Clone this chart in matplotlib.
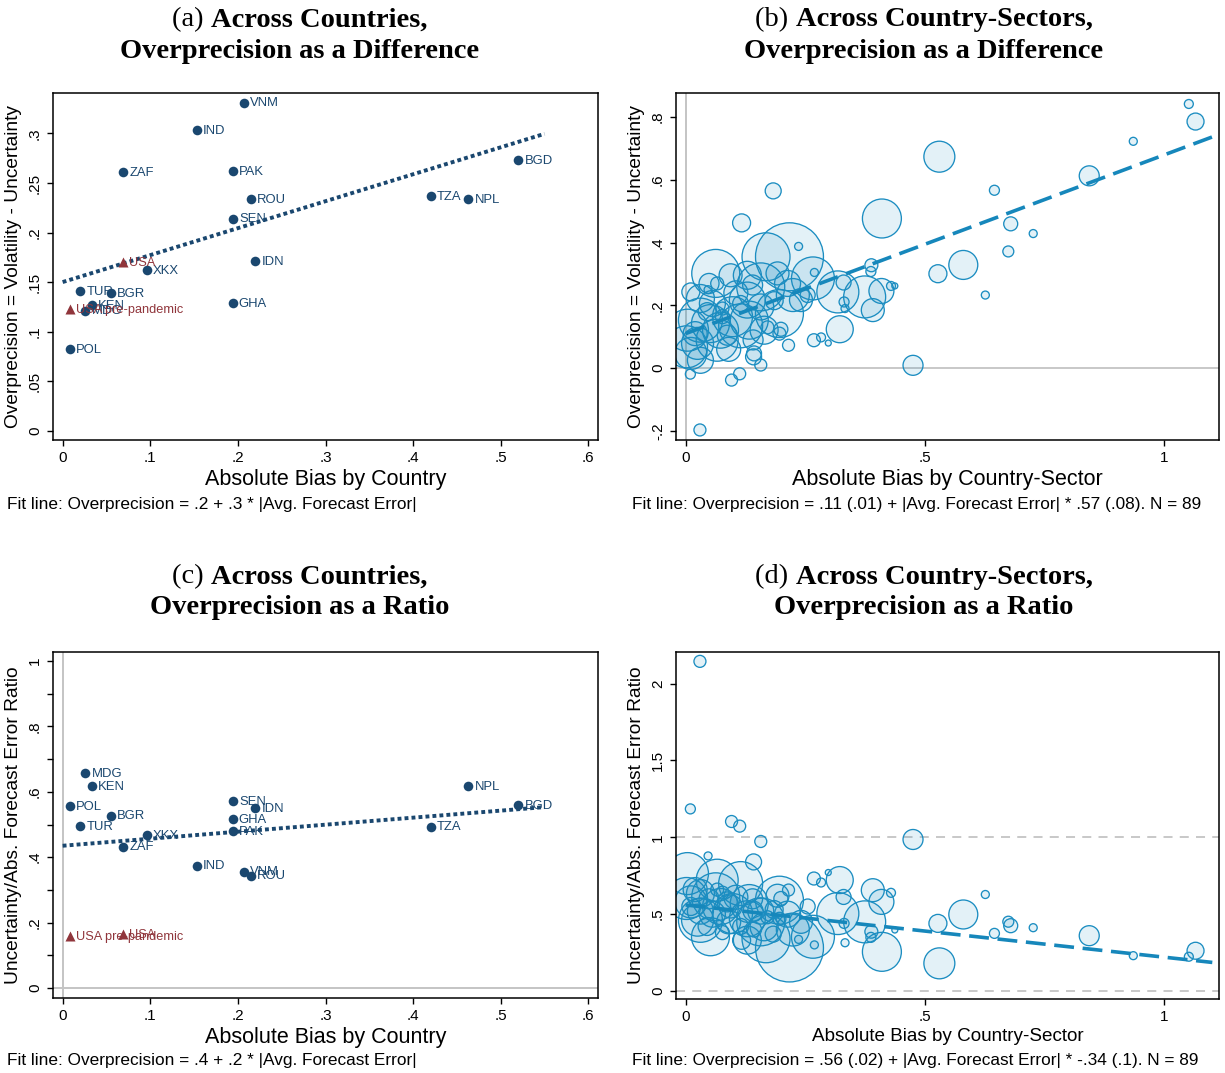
import matplotlib
matplotlib.use('Agg')
import matplotlib.pyplot as plt
import numpy as np

plt.rcParams['font.family'] = ['Liberation Sans', 'DejaVu Sans']

# ---- country level data ----
countries = ['VNM', 'IND', 'ZAF', 'PAK', 'ROU', 'SEN', 'BGD', 'TZA', 'NPL',
             'IDN', 'XKX', 'TUR', 'BGR', 'GHA', 'KEN', 'MDG', 'POL']
abs_bias = [0.207, 0.153, 0.069, 0.194, 0.215, 0.195, 0.520, 0.420, 0.463,
            0.220, 0.096, 0.020, 0.055, 0.194, 0.033, 0.026, 0.008]
overprec_diff = [0.331, 0.303, 0.261, 0.262, 0.234, 0.214, 0.273, 0.237, 0.234,
                 0.171, 0.162, 0.141, 0.139, 0.129, 0.127, 0.121, 0.082]
overprec_ratio = [0.356, 0.374, 0.432, 0.479, 0.343, 0.571, 0.559, 0.493, 0.617,
                  0.551, 0.467, 0.496, 0.527, 0.517, 0.618, 0.658, 0.557]

usa_labels = ['USA', 'USA pre-pandemic']
usa_bias = [0.069, 0.008]
usa_diff = [0.170, 0.123]
usa_ratio = [0.164, 0.158]

fit_a = (0.150, 0.272)
fit_c = (0.435, 0.215)

# ---- country-sector data (abs bias, difference, ratio, weight) ----
cs_bias = [0.030, 0.010, 0.096, 0.113, 0.157, 0.475, 1.051, 1.065, 0.935, 0.843,
           0.530, 0.645, 0.679, 0.726, 0.674, 0.626, 0.580, 0.527, 0.410, 0.183,
           0.117, 0.047, 0.142, 0.322, 0.268, 0.283, 0.298, 0.215, 0.199, 0.236,
           0.217, 0.388, 0.387, 0.391, 0.409, 0.429, 0.437, 0.318, 0.374, 0.331,
           0.330, 0.333, 0.266, 0.269, 0.224, 0.241, 0.255, 0.196, 0.157, 0.192,
           0.213, 0.129, 0.094, 0.049, 0.066, 0.011, 0.031, 0.056, 0.129, 0.157,
           0.098, 0.133, 0.031, 0.004, 0.002, 0.052, 0.073, 0.066, 0.025, 0.011,
           0.143, 0.164, 0.063, 0.168, 0.115, 0.115, 0.077, 0.077, 0.171, 0.196,
           0.141, 0.087, 0.031, 0.045, 0.105, 0.185, 0.140, 0.020, 0.090]
cs_diff = [-0.197, -0.019, -0.038, -0.018, 0.010, 0.009, 0.842, 0.786, 0.723, 0.613,
           0.674, 0.567, 0.460, 0.429, 0.372, 0.233, 0.329, 0.301, 0.477, 0.565,
           0.463, 0.250, 0.036, 0.124, 0.089, 0.098, 0.080, 0.073, 0.124, 0.388,
           0.355, 0.328, 0.308, 0.185, 0.246, 0.262, 0.262, 0.243, 0.227, 0.211,
           0.273, 0.190, 0.286, 0.305, 0.233, 0.217, 0.233, 0.174, 0.259, 0.302,
           0.270, 0.296, 0.296, 0.270, 0.270, 0.243, 0.222, 0.206, 0.217, 0.195,
           0.164, 0.153, 0.153, 0.121, 0.068, 0.142, 0.121, 0.089, 0.079, 0.047,
           0.047, 0.121, 0.302, 0.355, 0.135, 0.206, 0.190, 0.164, 0.130, 0.110,
           0.090, 0.105, 0.025, 0.180, 0.240, 0.215, 0.265, 0.110, 0.060]
cs_ratio = [2.145, 1.185, 1.103, 1.073, 0.973, 0.986, 0.223, 0.262, 0.230, 0.360,
            0.180, 0.375, 0.425, 0.412, 0.451, 0.628, 0.498, 0.440, 0.255, 0.370,
            0.330, 0.879, 0.840, 0.722, 0.732, 0.706, 0.771, 0.657, 0.602, 0.336,
            0.280, 0.386, 0.349, 0.656, 0.580, 0.639, 0.397, 0.504, 0.450, 0.440,
            0.612, 0.314, 0.353, 0.300, 0.400, 0.450, 0.550, 0.591, 0.450, 0.620,
            0.500, 0.331, 0.550, 0.600, 0.660, 0.550, 0.634, 0.500, 0.470, 0.520,
            0.504, 0.569, 0.460, 0.764, 0.602, 0.353, 0.550, 0.721, 0.461, 0.580,
            0.400, 0.418, 0.613, 0.340, 0.699, 0.420, 0.640, 0.380, 0.480, 0.470,
            0.520, 0.580, 0.520, 0.420, 0.610, 0.530, 0.600, 0.660, 0.450]
cs_weight = [36, 25, 36, 36, 36, 100, 20, 72, 16, 100,
             240, 25, 49, 16, 30, 16, 210, 81, 380, 64,
             81, 16, 64, 182, 42, 20, 9, 36, 49, 16,
             1156, 42, 25, 132, 156, 20, 9, 441, 441, 25,
             56, 16, 462, 16, 272, 132, 56, 576, 576, 132,
             169, 196, 132, 100, 42, 81, 196, 169, 324, 169,
             400, 361, 484, 441, 441, 361, 324, 441, 256, 256,
             56, 196, 576, 576, 484, 64, 42, 49, 42, 42,
             100, 100, 169, 81, 144, 81, 100, 144, 144]

fit_b = (0.11, 0.57)
fit_d = (0.56, -0.34)

NAVY = '#1a476f'
MAROON = '#90353b'
BLUE = '#1b8dc1'
GRAY = '#c4c4c4'

W, H = 1225, 1073
fig = plt.figure(figsize=(W / 100, H / 100), dpi=100)


def box(l, t, r, b):
    return [l / W, 1 - b / H, (r - l) / W, (b - t) / H]


def stata_fmt(v, pos=None):
    s = f'{v:g}'
    if s.startswith('0.'):
        s = s[1:]
    elif s.startswith('-0.'):
        s = '-' + s[2:]
    return s


def style(ax, xticks, yticks, yminor=None):
    ax.set_xticks(xticks)
    ax.set_yticks(yticks)
    if yminor is not None:
        ax.set_yticks(yminor, minor=True)
    ax.xaxis.set_major_formatter(plt.FuncFormatter(stata_fmt))
    ax.yaxis.set_major_formatter(plt.FuncFormatter(stata_fmt))
    ax.tick_params(which='both', direction='out', length=4, width=1, labelsize=11, pad=4)
    ax.tick_params(axis='y', labelrotation=90)
    plt.setp(ax.get_yticklabels(), va='center')
    for sp in ax.spines.values():
        sp.set_linewidth(1.1)


def country_panel(ax, yvals, usa_y, fit, ylim, yticks, ylabel, yminor=None, refs=False):
    if refs:
        ax.axhline(0, color=GRAY, lw=1.4, zorder=0)
        ax.axvline(0, color=GRAY, lw=1.4, zorder=0)
    xs = np.array([0, 0.55])
    ax.plot(xs, fit[0] + fit[1] * xs, color=NAVY, lw=2.8, ls=(0, (1, 0.8)), zorder=2)
    ax.scatter(abs_bias, yvals, s=48, color=NAVY, lw=0, zorder=3)
    ax.scatter(usa_bias, usa_y, marker='^', s=52, color=MAROON, lw=0, zorder=3)
    for name, x, y in zip(countries, abs_bias, yvals):
        ax.annotate(name, (x, y), xytext=(4.5, -0.5), textcoords='offset points',
                    va='center', ha='left', fontsize=9.4, color=NAVY, zorder=4)
    for name, x, y in zip(usa_labels, usa_bias, usa_y):
        ax.annotate(name, (x, y), xytext=(4.5, -0.5), textcoords='offset points',
                    va='center', ha='left', fontsize=9.2, color=MAROON, zorder=4)
    ax.set_xlim(-0.011, 0.611)
    ax.set_ylim(*ylim)
    style(ax, [0, 0.1, 0.2, 0.3, 0.4, 0.5, 0.6], yticks, yminor)
    ax.set_xlabel('Absolute Bias by Country', fontsize=15.5, labelpad=3)
    ax.set_ylabel(ylabel, fontsize=13.8, labelpad=4)


def sector_panel(ax, yvals, fit, ylim, yticks, ylabel, xlabel_size, hlines, dashed):
    ls = (0, (5, 4)) if dashed else '-'
    for h in hlines:
        ax.axhline(h, color=GRAY, lw=1.3, ls=ls, zorder=0)
    if not dashed:
        ax.axvline(0, color=GRAY, lw=1.4, zorder=0)
    ax.scatter(cs_bias, yvals, s=np.array(cs_weight) * 2.07,
               facecolor=(0.106, 0.553, 0.757, 0.12), edgecolor=BLUE, lw=0.95, zorder=2)
    xs = np.array([0, 1.1])
    ax.plot(xs, fit[0] + fit[1] * xs, color='#1687bb', lw=2.6, ls=(0, (5.5, 2.4)), zorder=3)
    ax.set_xlim(-0.02, 1.114)
    ax.set_ylim(*ylim)
    style(ax, [0, 0.5, 1], yticks)
    ax.set_xlabel('Absolute Bias by Country-Sector', fontsize=xlabel_size, labelpad=3)
    ax.set_ylabel(ylabel, fontsize=13.8, labelpad=4)


ax_a = fig.add_axes(box(53, 93, 598, 440))
country_panel(ax_a, overprec_diff, usa_diff, fit_a, (-0.0094, 0.3408),
              [0, 0.05, 0.1, 0.15, 0.2, 0.25, 0.3],
              'Overprecision = Volatility - Uncertainty')

ax_c = fig.add_axes(box(53, 652, 598, 998))
country_panel(ax_c, overprec_ratio, usa_ratio, fit_c, (-0.031, 1.028),
              [0, 0.2, 0.4, 0.6, 0.8, 1], 'Uncertainty/Abs. Forecast Error Ratio',
              yminor=[0.1, 0.3, 0.5, 0.7, 0.9], refs=True)

ax_b = fig.add_axes(box(676, 93, 1219, 440))
sector_panel(ax_b, cs_diff, fit_b, (-0.229, 0.877), [-0.2, 0, 0.2, 0.4, 0.6, 0.8],
             'Overprecision = Volatility - Uncertainty', 15.5, [0], False)

ax_d = fig.add_axes(box(676, 652, 1219, 999))
sector_panel(ax_d, cs_ratio, fit_d, (-0.052, 2.206), [0, 0.5, 1, 1.5, 2],
             'Uncertainty/Abs. Forecast Error Ratio', 13.6, [0, 1], True)

# ---- titles with regular tag and bold text ----
renderer = fig.canvas.get_renderer()
serif = ['Liberation Serif', 'DejaVu Serif']


def title(xc, y1, y2, tag, line1, line2):
    t1 = fig.text(0, 1 - y1 / H, tag + ' ', family=serif, fontsize=20.5, va='center')
    t2 = fig.text(0, 1 - y1 / H, line1, family=serif, fontsize=20.5, weight='bold', va='center')
    w1 = t1.get_window_extent(renderer).width
    w2 = t2.get_window_extent(renderer).width
    x0 = xc - (w1 + w2) / 2
    t1.set_x(x0 / W)
    t2.set_x((x0 + w1) / W)
    fig.text(xc / W, 1 - y2 / H, line2, family=serif, fontsize=20.5, weight='bold',
             ha='center', va='center')


title(300, 20, 51, '(a)', 'Across Countries,', 'Overprecision as a Difference')
title(924, 20, 51, '(b)', 'Across Country-Sectors,', 'Overprecision as a Difference')
title(300, 577, 608, '(c)', 'Across Countries,', 'Overprecision as a Ratio')
title(924, 577, 608, '(d)', 'Across Country-Sectors,', 'Overprecision as a Ratio')

# ---- fit line notes ----
notes = [(7, 504, 'Fit line: Overprecision = .2 + .3 * |Avg. Forecast Error|'),
         (632, 504, 'Fit line: Overprecision = .11 (.01) + |Avg. Forecast Error| * .57 (.08). N = 89'),
         (7, 1061, 'Fit line: Overprecision = .4 + .2 * |Avg. Forecast Error|'),
         (632, 1061, 'Fit line: Overprecision = .56 (.02) + |Avg. Forecast Error| * -.34 (.1). N = 89')]
for x, y, s in notes:
    fig.text(x / W, 1 - y / H, s, fontsize=12.4, va='center', ha='left')

fig.savefig('out.png', dpi=100)
